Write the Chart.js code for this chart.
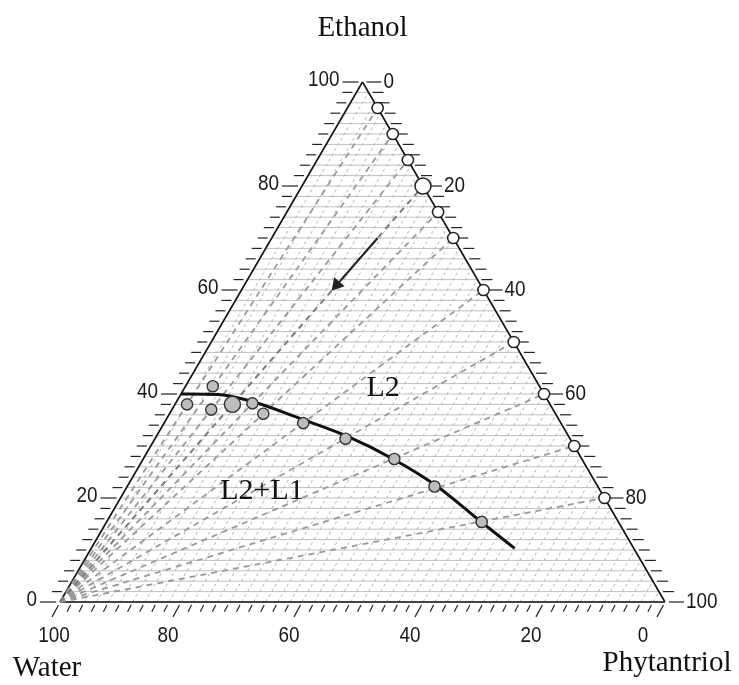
<!DOCTYPE html>
<html>
<head>
<meta charset="utf-8">
<script src="https://cdn.jsdelivr.net/npm/chart.js@4"></script>
<style>
  body { margin: 0; background: #fff; }
  #wrap { width: 739px; height: 685px; }
</style>
</head>
<body>
<div id="wrap"><canvas id="myChart"></canvas></div>
<script>
// ternary axis labels (wt%)
var axisTicks = [0, 20, 40, 60, 80, 100];

// starting mixtures on the water-free side (phytantriol wt%), diluted with water
var startPhyt = [5, 10, 15, 20, 25, 30, 40, 50, 60, 70, 80];

// cloud points found along each dilution line
var pointEthanol = [41.5, 38, 37, 38, 38.2, 36.2, 34.4, 31.4, 27.5, 22.2, 15.4];
var pointPhyt = [4.5, 2, 6.5, 9.5, 12.7, 15.5, 23, 31.5, 41.5, 50.8, 62];

// L2 / L2+L1 phase boundary
var boundaryEthanol = [40, 39.9, 38.7, 35.3, 31.9, 27.5, 22.3, 15.6, 10.3];
var boundaryPhyt = [0, 6, 12, 22, 31.5, 41.3, 51.1, 61.6, 70];

// dilution arrow
var arrowEthanol = [70, 61];
var arrowPhyt = [17.5, 15.25];

// region labels
var regionNames = ['L2', 'L2+L1'];
var regionEthanol = [41.2, 21.4];
var regionPhyt = [32.8, 22.7];

var H = Math.sqrt(3) / 2;
function tern(eth, phyt) {
    return { x: phyt + eth / 2, y: eth * H };
}

var dilution = [];
var dilution20 = [];
startPhyt.forEach(function (p) {
    var line = p === 20 ? dilution20 : dilution;
    line.push(tern(0, 0), tern(100 - p, p), { x: NaN, y: NaN });
});

// narrow tick numbers like the original figure
function narrowText(ctx, text, x, y, align) {
    ctx.save();
    ctx.translate(x, y);
    ctx.scale(0.86, 1);
    ctx.textAlign = align;
    ctx.textBaseline = 'middle';
    ctx.fillText(text, 0, 0);
    ctx.restore();
}

var ternaryAxes = {
    id: 'ternaryAxes',
    beforeDatasetsDraw: function (chart) {
        var ctx = chart.ctx, sx = chart.scales.x, sy = chart.scales.y;
        function px(e, p) {
            var t = tern(e, p);
            return [sx.getPixelForValue(t.x), sy.getPixelForValue(t.y)];
        }
        function seg(x1, y1, x2, y2) {
            ctx.beginPath(); ctx.moveTo(x1, y1); ctx.lineTo(x2, y2); ctx.stroke();
        }
        ctx.save();
        // grid: constant ethanol (solid) and constant phytantriol (dashed)
        ctx.lineWidth = 1;
        ctx.strokeStyle = '#c0c0c0';
        for (var e = 2; e < 100; e += 2) {
            var a = px(e, 0), b = px(e, 100 - e);
            seg(a[0], a[1], b[0], b[1]);
        }
        ctx.setLineDash([3, 3]);
        ctx.strokeStyle = '#b0b0b0';
        for (var p = 2; p < 100; p += 2) {
            var c = px(0, p), d = px(100 - p, p);
            seg(c[0], c[1], d[0], d[1]);
        }
        ctx.setLineDash([]);

        // triangle
        var W = px(0, 0), E = px(100, 0), P = px(0, 100);
        ctx.strokeStyle = '#111';
        ctx.lineWidth = 1.6;
        seg(W[0], W[1], E[0], E[1]);
        seg(E[0], E[1], P[0], P[1]);
        ctx.strokeStyle = '#444';
        ctx.lineWidth = 2.2;
        seg(W[0], W[1], P[0], P[1]);

        // ticks
        ctx.strokeStyle = '#222';
        ctx.lineWidth = 1.2;
        ctx.fillStyle = '#1a1a1a';
        ctx.font = "22px 'Liberation Sans', Arial, sans-serif";
        for (var v = 0; v <= 100; v += 2) {
            var major = axisTicks.indexOf(v) >= 0;
            // left: ethanol
            var l = px(v, 0);
            if (major) seg(l[0] - 4, l[1], l[0] - 20, l[1]);
            else seg(l[0] - 4, l[1], l[0] - 14, l[1]);
            // right: phytantriol
            var r = px(100 - v, v);
            if (major) seg(r[0] + 4, r[1], r[0] + 19, r[1]);
            else seg(r[0] + 4, r[1], r[0] + 15, r[1]);
            // bottom: water, slanted ticks
            var bt = px(0, 100 - v);
            var len = major ? 16 : 10;
            seg(bt[0] - 1.5, bt[1] + 3, bt[0] - len / 2, bt[1] + len * H + 1);
            if (major) {
                narrowText(ctx, String(v), l[0] - 23, l[1] - 2, 'right');
                narrowText(ctx, String(v), r[0] + 21, r[1], 'left');
                var off = v === 100 ? -6 : (v === 0 ? -22 : -13);
                narrowText(ctx, String(v), bt[0] + off, bt[1] + 34, 'center');
            }
        }
        ctx.restore();
    },
    afterDraw: function (chart) {
        var ctx = chart.ctx, sx = chart.scales.x, sy = chart.scales.y;
        function px(e, p) {
            var t = tern(e, p);
            return [sx.getPixelForValue(t.x), sy.getPixelForValue(t.y)];
        }
        ctx.save();
        ctx.fillStyle = '#111';
        ctx.textAlign = 'center';
        ctx.textBaseline = 'middle';
        ctx.font = "30px 'Liberation Serif', 'Times New Roman', serif";
        regionNames.forEach(function (name, i) {
            var q = px(regionEthanol[i], regionPhyt[i]);
            ctx.fillText(name, q[0], q[1]);
        });
        ctx.font = "29px 'Liberation Serif', 'Times New Roman', serif";
        var W = px(0, 0), E = px(100, 0), P = px(0, 100);
        ctx.fillText('Ethanol', E[0], E[1] - 54);
        ctx.fillText('Water', W[0] - 13, W[1] + 66);
        ctx.fillText('Phytantriol', P[0] + 2, P[1] + 61);
        ctx.restore();
    }
};

var ctx = document.getElementById('myChart').getContext('2d');

var chart1 = new Chart(ctx, {
    type: 'scatter',
    data: {
        datasets: [{
            // cloud points
            data: pointEthanol.map(function (e, i) { return tern(e, pointPhyt[i]); }),
            pointRadius: pointPhyt.map(function (p, i) { return i === 3 ? 8 : 5.6; }),
            backgroundColor: '#bdbdbd',
            borderColor: '#333',
            borderWidth: 1.4,
            order: 0
        }, {
            // starting mixtures
            data: startPhyt.map(function (p) { return tern(100 - p, p); }),
            pointRadius: startPhyt.map(function (p) { return p === 20 ? 8 : 5.6; }),
            backgroundColor: '#fff',
            borderColor: '#222',
            borderWidth: 1.5,
            order: 1
        }, {
            // phase boundary
            data: boundaryEthanol.map(function (e, i) { return tern(e, boundaryPhyt[i]); }),
            showLine: true,
            cubicInterpolationMode: 'monotone',
            borderColor: '#111',
            borderWidth: 3,
            pointRadius: 0,
            order: 2
        }, {
            // arrow
            data: arrowEthanol.map(function (e, i) { return tern(e, arrowPhyt[i]); }),
            showLine: true,
            borderColor: '#222',
            backgroundColor: '#222',
            borderWidth: 2,
            pointStyle: 'triangle',
            pointRadius: [0, 6],
            rotation: 221,
            order: 3
        }, {
            data: dilution20,
            showLine: true,
            borderColor: '#7a7a7a',
            borderWidth: 2,
            borderDash: [6, 5],
            pointRadius: 0,
            order: 4
        }, {
            data: dilution,
            showLine: true,
            borderColor: '#999',
            borderWidth: 1.8,
            borderDash: [6, 5],
            pointRadius: 0,
            order: 5
        }]
    },
    options: {
        responsive: true,
        maintainAspectRatio: false,
        animation: false,
        events: [],
        layout: { autoPadding: false, padding: 0 },
        plugins: {
            legend: { display: false },
            tooltip: { enabled: false }
        },
        scales: {
            x: { type: 'linear', display: false, min: -60 / 6.05, max: 679 / 6.05 },
            y: { type: 'linear', display: false, min: -83 / 6.0044, max: 602 / 6.0044 }
        }
    },
    plugins: [ternaryAxes]
});
</script>
</body>
</html>
